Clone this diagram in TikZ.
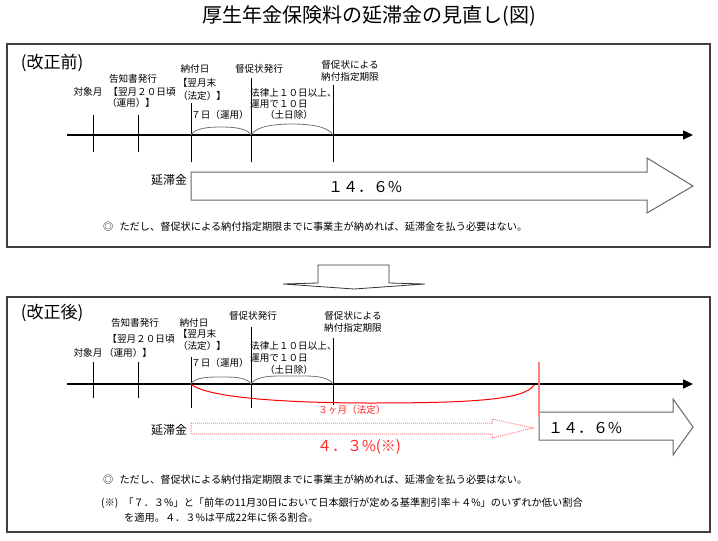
\documentclass[tikz,border=0pt]{standalone}
\usepackage{fontspec}
\setmainfont{Noto Sans CJK JP}
\usetikzlibrary{arrows.meta}
\definecolor{jred}{RGB}{255,40,40}
\definecolor{pinkred}{RGB}{255,130,130}
\begin{document}
\begin{tikzpicture}[x=1pt,y=-1pt,
  lbl/.style={inner sep=0pt, font=\fontsize{9.6}{11}\selectfont},
  note/.style={inner sep=0pt, anchor=west, font=\fontsize{10.2}{12}\selectfont},
  big/.style={inner sep=0pt, font=\fontsize{17}{19}\selectfont},
  num/.style={inner sep=0pt, font=\fontsize{15}{17}\selectfont},
  kin/.style={inner sep=0pt, font=\fontsize{12}{14}\selectfont},
  panel/.style={draw=black!75, line width=1.2pt},
  tline/.style={line width=1.6pt, -{Triangle[length=10pt,width=9pt]}},
  tickline/.style={line width=0.8pt},
  bracearc/.style={draw=black!55, line width=0.8pt},
  blockarrow/.style={draw=black!60, line width=1pt, fill=white},
  redtxt/.style={text=jred}
]
\useasboundingbox (0,0) rectangle (718,541);

% title
\node[inner sep=0pt, font=\fontsize{20}{22}\selectfont] (title) at (369,16) {厚生年金保険料の延滞金の見直し(図)};

% panels
\draw[panel] (7,44) rectangle (710,247);
\draw[panel] (7,297) rectangle (710,532);

% transition arrow
\draw[line width=0.8pt, draw=black!80] (318,283) -- (318,265) -- (389,265) -- (389,283) -- (425,284) -- (354,289) -- (283,284) -- cycle;

% ================= TOP PANEL =================
\node[big] (mae) at (52,63) {(改正前)};

\coordinate (Ts) at (67,135);
\coordinate (Te) at (693,135);
\draw[tline] (Ts) -- (Te);

\coordinate (t1a) at (93,115);  \coordinate (t1b) at (93,152);
\coordinate (t2a) at (138,115); \coordinate (t2b) at (138,152);
\coordinate (t3a) at (191,103); \coordinate (t3b) at (191,162);
\coordinate (t4a) at (251,78);  \coordinate (t4b) at (251,162);
\coordinate (t5a) at (333,85);  \coordinate (t5b) at (333,162);
\foreach \a/\b in {t1a/t1b,t2a/t2b,t3a/t3b,t4a/t4b,t5a/t5b} \draw[tickline] (\a) -- (\b);

\coordinate (p1) at (191,135);
\coordinate (p2) at (251,135);
\coordinate (p3) at (333,135);
\draw[bracearc] (p1) .. controls +(4,-7) and +(-12,0) .. (221,127) .. controls +(12,0) and +(-4,-7) .. (p2);
\draw[bracearc] (p2) .. controls +(5,-9) and +(-16,0) .. (292,124) .. controls +(16,0) and +(-5,-9) .. (p3);

\node[lbl] (taisho) at (88,92) {対象月};
\node[lbl] (kokuchi) at (133,79) {告知書発行};
\node[lbl] (yoku20) at (142,92) {【翌月２０日頃};
\node[lbl] (unyo1) at (131,103) {（運用）】};
\node[lbl] (nofu) at (195,69) {納付日};
\node[lbl] (yokumatsu) at (197,83) {【翌月末};
\node[lbl] (hotei1) at (202,96) {（法定）】};
\node[lbl] (tokusoku) at (259,69) {督促状発行};
\node[lbl] (tokuni) at (350,65) {督促状による};
\node[lbl] (kigen) at (350,77) {納付指定期限};
\node[lbl, anchor=west] (horitsu) at (250,93) {法律上１０日以上、};
\node[lbl, anchor=west] (unyo10) at (250,104) {運用で１０日};
\node[lbl] (donichi) at (289,115) {（土日除）};
\node[lbl] (nanoka) at (220,115) {７日（運用）};

\draw[blockarrow] (191,172) -- (647,172) -- (647,158) -- (693,186) -- (647,213) -- (647,200) -- (191,200) -- cycle;
\node[kin] (entai1) at (169,180) {延滞金};
\node[num] (rate1) at (365,187) {１４．６\%};
\node[note] (tadashi1) at (103,227) {◎\hspace{0.6em}ただし、督促状による納付指定期限までに事業主が納めれば、延滞金を払う必要はない。};

% ================= BOTTOM PANEL =================
\node[big] (go) at (52,313) {(改正後)};

\coordinate (Bs) at (67,384);
\coordinate (Be) at (693,384);
\draw[tline] (Bs) -- (Be);

\coordinate (b1a) at (93,362);  \coordinate (b1b) at (93,398);
\coordinate (b2a) at (138,362); \coordinate (b2b) at (138,398);
\coordinate (b3a) at (191,357); \coordinate (b3b) at (191,408);
\coordinate (b4a) at (251,327); \coordinate (b4b) at (251,408);
\coordinate (b5a) at (333,338); \coordinate (b5b) at (333,405);
\foreach \a/\b in {b1a/b1b,b2a/b2b,b3a/b3b,b4a/b4b,b5a/b5b} \draw[tickline] (\a) -- (\b);

\coordinate (q1) at (191,384);
\coordinate (q2) at (251,384);
\coordinate (q3) at (333,384);
\coordinate (q4) at (534,385);
\draw[bracearc] (q1) .. controls +(4,-7) and +(-12,0) .. (221,377) .. controls +(12,0) and +(-4,-7) .. (q2);
\draw[bracearc] (q2) .. controls +(5,-9) and +(-16,0) .. (292,376) .. controls +(16,0) and +(-5,-9) .. (q3);

% red 3-month curve
\draw[red, line width=1pt] (q1) .. controls (205,397) and (280,403) .. (370,403) .. controls (470,403) and (525,400) .. (q4);

\node[lbl] (taisho2) at (88,353) {対象月};
\node[lbl] (kokuchi2) at (135,323) {告知書発行};
\node[lbl] (yoku20b) at (141,339) {【翌月２０日頃};
\node[lbl] (unyo1b) at (128,353) {（運用）】};
\node[lbl] (nofu2) at (194,323) {納付日};
\node[lbl] (yokumatsu2) at (197,334) {【翌月末};
\node[lbl] (hotei2) at (202,346) {（法定）】};
\node[lbl] (tokusoku2) at (253,316) {督促状発行};
\node[lbl] (tokuni2) at (353,316) {督促状による};
\node[lbl] (kigen2) at (353,328) {納付指定期限};
\node[lbl, anchor=west] (horitsu2) at (250,346) {法律上１０日以上、};
\node[lbl, anchor=west] (unyo10b) at (250,358) {運用で１０日};
\node[lbl] (donichi2) at (289,370) {（土日除）};
\node[lbl] (nanoka2) at (220,363) {７日（運用）};
\node[lbl, redtxt] (sankagetsu) at (352,410) {３ヶ月（法定）};

% 14.6% arrow after 3 months
\draw[blockarrow] (539,412) -- (673,412) -- (673,399) -- (693,427) -- (673,455) -- (673,440) -- (539,440) -- cycle;
\coordinate (rv1) at (539,362);
\coordinate (rv2) at (539,417);
\draw[pinkred, line width=1.3pt] (rv1) -- (rv2);
\node[num] (rate2) at (585,428) {１４．６\%};

% 4.3% dotted arrow
\draw[pinkred, densely dotted, line width=1pt] (191,423) -- (492,423) -- (492,419) -- (533,428) -- (492,438) -- (492,434) -- (191,434) -- cycle;
\node[kin] (entai2) at (169,430) {延滞金};
\node[num, redtxt] (rate3) at (359,447) {４．３\%(※)};

\node[note] (tadashi2) at (103,480) {◎\hspace{0.6em}ただし、督促状による納付指定期限までに事業主が納めれば、延滞金を払う必要はない。};
\node[note] (kome) at (101,503) {(※)\hspace{0.5em}「７．３\%」と「前年の11月30日において日本銀行が定める基準割引率＋４\%」のいずれか低い割合};
\node[note] (kome2) at (124,518) {を適用。４．３\%は平成22年に係る割合。};
\end{tikzpicture}
\end{document}
